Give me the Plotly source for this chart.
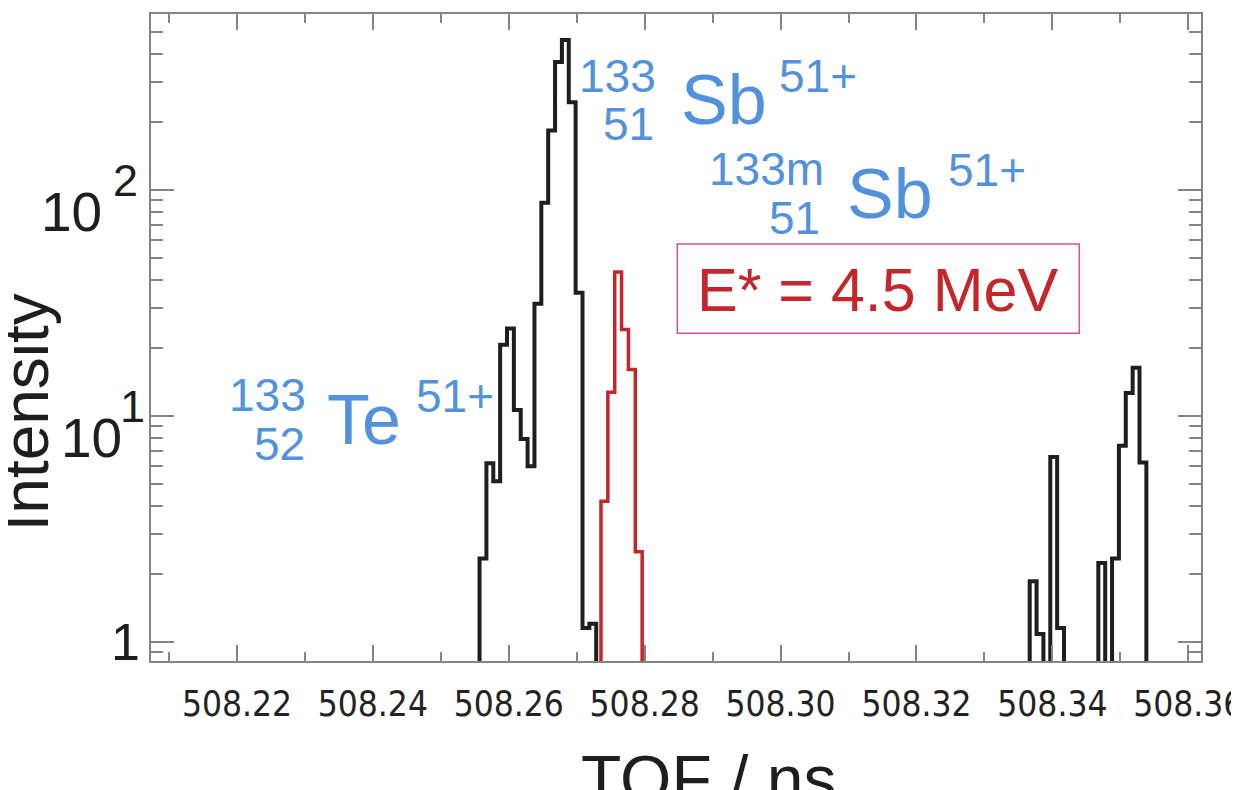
import math
import plotly.graph_objects as go

# histogram data, bin width ~0.00101 ns, counts
bin_w = 0.00101

sb_start = 508.2557
sb_counts = [2.33, 6.16, 5.12, 20.6, 24.3, 10.6, 7.88, 5.98, 31.3, 87.5,
             183, 368, 460, 244, 35.0, 1.15, 1.2]

sbm_start = 508.27357
sbm_counts = [4.18, 12.7, 43.2, 24.1, 16.0, 2.50]

far_start = 508.33666
far_counts = [1.85, 1.08, 0, 6.56, 1.15, 0, 0, 0, 0, 0, 2.23, 0, 2.33,
              7.37, 12.6, 16.3, 6.21]

x_major = [508.22, 508.24, 508.26, 508.28, 508.30, 508.32, 508.34, 508.36]
x_minor = [508.21, 508.23, 508.25, 508.27, 508.29, 508.31, 508.33, 508.35]
y_major = [1, 10, 100]
y_minor = [0.9, 2, 3, 4, 5, 6, 7, 8, 9, 20, 30, 40, 50, 60, 70, 80, 90,
           200, 300, 400, 500, 600]

FLOOR = 0.5
Y_RANGE = [-0.0858, 2.778]


def steps(start, counts):
    xs = [start]
    ys = [FLOOR]
    for i, c in enumerate(counts):
        xs.append(start + i * bin_w)
        ys.append(c if c > 0 else FLOOR)
    xs.append(start + len(counts) * bin_w)
    ys.append(FLOOR)
    return xs, ys


fig = go.Figure()
for start, counts, col, w in [(sb_start, sb_counts, "#1e1e1e", 4),
                              (sbm_start, sbm_counts, "#c3262b", 3.5),
                              (far_start, far_counts, "#1e1e1e", 4)]:
    xs, ys = steps(start, counts)
    fig.add_trace(go.Scatter(x=xs, y=ys, mode="lines", line_shape="hv",
                             line=dict(color=col, width=w), showlegend=False))

# plot frame in page pixels (page has the browser's 8px body margin)
L, R, T, B = 150.7, 1200.7, 14, 660.7
OFF = 8


def px(x):
    return (x - L) / (R - L)


def py(y):
    return (B - y) / (B - T)


blue = "#5292dc"
lab = "Liberation Sans, Arial, sans-serif"
ann = []


def txt(s, x, y, size, anchor, color=blue, **kw):
    ann.append(dict(text=s, x=px(x), y=py(y), xref="paper", yref="paper",
                    xanchor=anchor, yanchor="middle", showarrow=False,
                    font=dict(family=lab, size=size, color=color), **kw))


# 133/51 Sb 51+
txt("133", 658, 75.5, 46, "right")
txt("51", 656, 124, 46, "right")
txt("Sb", 679, 100, 70, "left")
txt("51+", 777, 75.5, 46, "left")
# 133m/51 Sb 51+
txt("133m", 826, 169, 46, "right")
txt("51", 822, 217.5, 46, "right")
txt("Sb", 845, 193.5, 70, "left")
txt("51+", 946, 170, 46, "left")
# 133/52 Te 51+
txt("133", 308, 395, 46, "right")
txt("52", 307, 443.5, 46, "right")
txt("Te", 325, 420, 70, "left")
txt("51+", 414, 395.5, 46, "left")

txt("E* = 4.5 MeV", 877.5, 289.5, 61, "center", color="#c3262b")
txt("Intensity", 26, 412, 64, "center", color="#1e1e1e", textangle=-90)
txt("TOF / ns", 709, 779, 66, "center", color="#1e1e1e")

# y tick labels: the "10" sits below the tick, exponent above it (old IDL style)
dec_px = (B - T) / (Y_RANGE[1] - Y_RANGE[0])
for v in y_major:
    tick_y = B - (math.log10(v) - Y_RANGE[0]) * dec_px
    e = int(round(math.log10(v)))
    if e == 0:
        txt("1", 142, tick_y, 52, "right", color="#1e1e1e")
    else:
        right = 104 if e == 2 else 124
        sup_x = 111 if e == 2 else 118
        txt("10", right, tick_y + 22, 55, "right", color="#1e1e1e")
        txt(str(e), sup_x, tick_y - 9, 45, "left", color="#1e1e1e")

fig.add_shape(type="rect", xref="paper", yref="paper",
              x0=px(677), x1=px(1079), y0=py(333), y1=py(244),
              line=dict(color="#d4509c", width=1.5))

axcol = "#858585"
fig.update_layout(
    width=1239 - OFF, height=790 - OFF,
    margin=dict(l=L - OFF, r=1239 - R, t=T - OFF, b=790 - B),
    paper_bgcolor="white", plot_bgcolor="white",
    annotations=ann,
    xaxis=dict(range=[508.20735, 508.36187], tickvals=x_major,
               ticktext=["%.2f" % v for v in x_major], automargin=False,
               ticks="inside", ticklen=16, tickwidth=1.5, tickcolor=axcol,
               showline=True, linecolor=axcol, linewidth=1.5, mirror="allticks",
               showgrid=False, zeroline=False, ticklabelstandoff=11,
               ticklabeloverflow="allow",
               tickfont=dict(family="Liberation Sans Narrow, DejaVu Sans Condensed, Arial Narrow, sans-serif",
                             size=35, color="#222222"),
               minor=dict(tickvals=x_minor, ticks="inside", ticklen=9,
                          tickwidth=1.5, tickcolor=axcol)),
    yaxis=dict(type="log", range=Y_RANGE, tickvals=y_major,
               showticklabels=False, automargin=False,
               ticks="inside", ticklen=23, tickwidth=1.5, tickcolor=axcol,
               showline=True, linecolor=axcol, linewidth=1.5, mirror="allticks",
               showgrid=False, zeroline=False,
               minor=dict(tickvals=y_minor, ticks="inside", ticklen=12,
                          tickwidth=1.5, tickcolor=axcol)),
)

fig.write_html("out.html", config={"displayModeBar": False})
